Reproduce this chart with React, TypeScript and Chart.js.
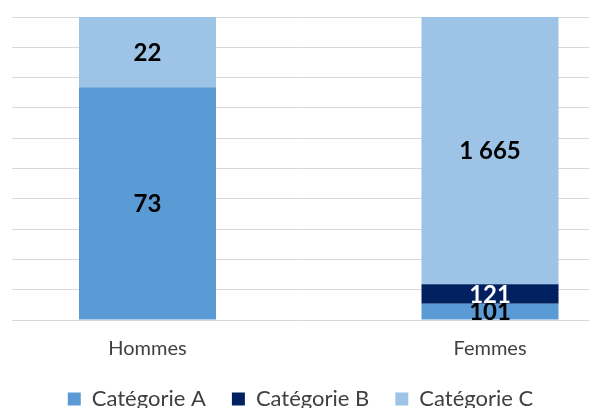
import React, { useEffect, useRef } from "react";
import { Chart, registerables } from "chart.js";

Chart.register(...registerables);

const categories = ["Hommes", "Femmes"];
const seriesNames = ["Catégorie A", "Catégorie B", "Catégorie C"];
const seriesA = [73, 101];
const seriesB = [0, 121];
const seriesC = [22, 1665];
const seriesColors = ["#5B9BD5", "#002060", "#9DC3E6"];
const labelColors = ["#000000", "#FFFFFF", "#000000"];
const yTicksPct = [0, 10, 20, 30, 40, 50, 60, 70, 80, 90, 100];

const FONT = "Lato";
const TEXT_COLOR = "#404040";

function fmt(n: number): string {
  return String(n).replace(/\B(?=(\d{3})+(?!\d))/g, " ");
}

const valueLabels = {
  id: "valueLabels",
  afterDatasetsDraw(chart: any) {
    const ctx = chart.ctx;
    ctx.save();
    ctx.font = `bold 24px ${FONT}`;
    ctx.textAlign = "center";
    ctx.textBaseline = "middle";
    chart.data.datasets.forEach((ds: any, di: number) => {
      const meta = chart.getDatasetMeta(di);
      meta.data.forEach((el: any, i: number) => {
        const raw = ds.rawValues[i];
        if (!raw) return;
        const y = (el.y + el.base) / 2;
        ctx.fillStyle = labelColors[di];
        ctx.fillText(fmt(raw), el.x, y + 1);
      });
    });
    ctx.restore();
  },
};

export default function App() {
  const ref = useRef<HTMLCanvasElement>(null);
  useEffect(() => {
    document.body.style.margin = "0";
    document.body.style.overflow = "hidden";
    const all = [seriesA, seriesB, seriesC];
    const totals = categories.map((_, i) => all.reduce((s, arr) => s + arr[i], 0));
    const datasets = all.map((arr, di) => ({
      label: seriesNames[di],
      data: arr.map((v, i) => ({ x: i, y: (v / totals[i]) * 100 })),
      rawValues: arr,
      backgroundColor: seriesColors[di],
      borderWidth: 0,
      categoryPercentage: 1,
      barPercentage: 0.4,
    }));
    const chart = new Chart(ref.current!, {
      type: "bar",
      data: { datasets } as any,
      plugins: [valueLabels],
      options: {
        animation: false,
        responsive: true,
        maintainAspectRatio: false,
        layout: { padding: { top: 17, left: 12, right: 0, bottom: 0 } },
        plugins: {
          tooltip: { enabled: false },
          legend: {
            position: "bottom",
            labels: {
              boxWidth: 13,
              boxHeight: 13,
              padding: 26,
              color: TEXT_COLOR,
              font: { family: FONT, size: 22 },
            },
          },
        },
        scales: {
          x: {
            type: "linear",
            stacked: true,
            offset: false,
            min: -0.3956,
            max: 1.289,
            afterBuildTicks: (s: any) => {
              s.ticks = categories.map((_, i) => ({ value: i }));
            },
            afterFit: (s: any) => {
              s.height = 42;
            },
            grid: { display: false, drawTicks: false },
            border: { display: false },
            ticks: {
              padding: 17,
              maxRotation: 0,
              color: TEXT_COLOR,
              font: { family: FONT, size: 20 },
              callback: (v: any) => categories[v] ?? "",
            },
          },
          y: {
            stacked: true,
            min: 0,
            max: 100,
            afterBuildTicks: (s: any) => {
              s.ticks = yTicksPct.map((v) => ({ value: v }));
            },
            afterFit: (s: any) => {
              s.width = 0;
            },
            grid: { color: "#D9D9D9", lineWidth: 1, drawTicks: false },
            border: { display: false },
            ticks: { display: false },
          },
        },
      } as any,
    });
    return () => chart.destroy();
  }, []);
  return (
    <div style={{ position: "fixed", left: 0, top: 0, width: 589, height: 408, overflow: "hidden" }}>
      <div style={{ width: 589, height: 420, position: "relative" }}>
        <canvas ref={ref} />
      </div>
    </div>
  );
}
